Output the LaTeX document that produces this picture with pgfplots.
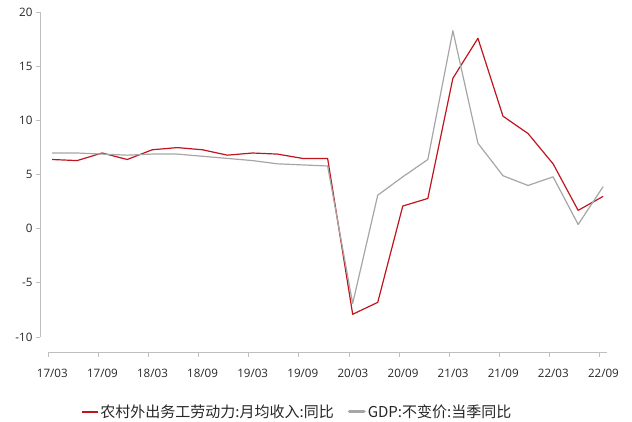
\documentclass[border=0pt]{standalone}
\usepackage{fontspec}
\setmainfont{Open Sans}
\newfontfamily\cjk{Noto Sans CJK SC}
\usepackage{pgfplots}
\pgfplotsset{compat=1.18}
\definecolor{redl}{RGB}{192,20,30}
\definecolor{greyl}{RGB}{166,166,166}
\definecolor{axgrey}{RGB}{191,191,191}
\definecolor{txt}{RGB}{38,38,38}
\begin{document}
\begin{tikzpicture}[x=1pt,y=1pt]
\useasboundingbox (-48.3,-84) rectangle (583.7,337);
\begin{axis}[
  at={(0,0)}, anchor=south west,
  scale only axis, width=558.4pt, height=324.7pt,
  xmin=0, xmax=22.29, ymin=-10, ymax=20,
  axis lines*=left,
  axis x line shift=15.7pt, axis y line shift=8.3pt,
  axis line style={axgrey, line width=0.8pt},
  tick align=outside, major tick length=4pt,
  tick style={axgrey, line width=0.8pt},
  xtick={0,2,...,22},
  xticklabels={17/03,17/09,18/03,18/09,19/03,19/09,20/03,20/09,21/03,21/09,22/03,22/09},
  ytick={-10,-5,...,20},
  tick label style={font=\fontsize{11.6}{13}\selectfont, text=txt},
  xticklabel style={yshift=-9pt, xshift=4pt},
  /pgf/number format/assume math mode=true,
  legend columns=-1,
  legend style={at={(0.4454,-0.2301)}, anchor=center, draw=none, fill=none,
    nodes={font=\cjk\fontsize{15}{17}\selectfont},
    /tikz/every even column/.append style={column sep=12pt}},
]
\addplot[redl, line width=1.2pt, line join=round, forget plot] coordinates {
(0.15,6.4) (1.15,6.3) (2.15,7.0) (3.15,6.4) (4.15,7.3) (5.15,7.5) (6.15,7.3) (7.15,6.8)
(8.15,7.0) (9.15,6.9) (10.15,6.5) (11.15,6.5) (12.15,-7.9) (13.15,-6.8) (14.15,2.1) (15.15,2.8)
(16.15,13.9) (17.15,17.6) (18.15,10.4) (19.15,8.8) (20.15,6.0) (21.15,1.7) (22.15,3.0)};
\addplot[greyl, line width=1.2pt, line join=round, forget plot] coordinates {
(0.15,7.0) (1.15,7.0) (2.15,6.9) (3.15,6.8) (4.15,6.9) (5.15,6.9) (6.15,6.7) (7.15,6.5)
(8.15,6.3) (9.15,6.0) (10.15,5.9) (11.15,5.8) (12.15,-6.9) (13.15,3.1) (14.15,4.8) (15.15,6.4)
(16.15,18.3) (17.15,7.9) (18.15,4.9) (19.15,4.0) (20.15,4.8) (21.15,0.4) (22.15,3.9)};
\addlegendimage{legend image code/.code={\draw[draw=redl, line width=1.7pt] (0pt,0pt) -- (16pt,0pt);}}
\addlegendentry{\textcolor{txt}{农村外出务工劳动力:月均收入:同比}}
\addlegendimage{legend image code/.code={\draw[draw=greyl, line width=3.5pt, line cap=round] (1.5pt,0pt) -- (16pt,0pt);}}
\addlegendentry{\textcolor{txt}{GDP:不变价:当季同比}}
\end{axis}
\end{tikzpicture}
\end{document}
